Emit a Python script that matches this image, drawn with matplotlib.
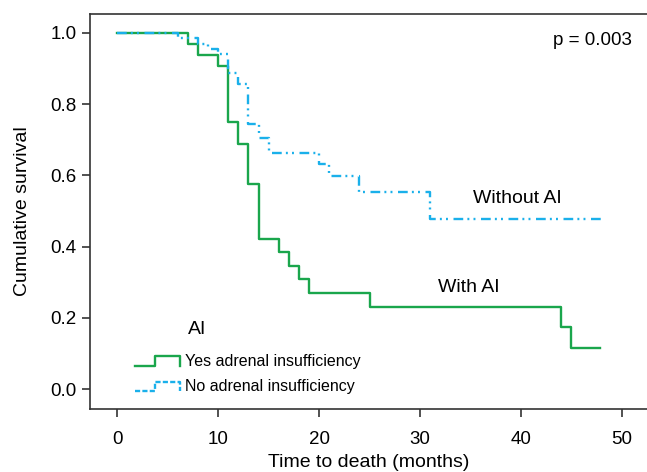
import matplotlib
matplotlib.use("Agg")
import matplotlib.pyplot as plt
from matplotlib.legend_handler import HandlerBase
from matplotlib.lines import Line2D

plt.rcParams['font.family'] = ['Liberation Sans', 'DejaVu Sans']
plt.rcParams['lines.scale_dashes'] = False

# Kaplan-Meier steps
yes_t = [0, 7, 8, 10, 11, 12, 13, 14, 16, 17, 18, 19, 25, 44, 45, 47.8]
yes_s = [1.0, 0.969, 0.939, 0.908, 0.75, 0.688, 0.575, 0.42, 0.385, 0.345,
         0.308, 0.269, 0.231, 0.174, 0.116, 0.116]

no_t = [0, 6, 8, 9, 10, 11, 12, 13, 14, 15, 20, 21, 24, 31, 48]
no_s = [1.0, 0.985, 0.97, 0.955, 0.94, 0.887, 0.857, 0.744, 0.706, 0.662,
        0.632, 0.597, 0.552, 0.477, 0.477]

green = '#1aa64c'
blue = '#1ab0ea'
dash = (0, (7, 3, 1.4, 3, 1.4, 4))


class StepHandler(HandlerBase):
    # legend glyph drawn as a little step, like the original
    def create_artists(self, legend, orig, xd, yd, w, h, fontsize, trans):
        xs = [xd, xd + 0.45 * w, xd + 0.45 * w, xd + w, xd + w]
        ys = [yd, yd, yd + h * 0.85, yd + h * 0.85, yd]
        ln = Line2D(xs, ys, color=orig.get_color(), lw=orig.get_linewidth(),
                    linestyle=orig.get_linestyle(), transform=trans)
        return [ln]


fig = plt.figure(figsize=(6.47, 4.72), dpi=100)
ax = fig.add_axes([90 / 647, 1 - 409 / 472, 1 - 90 / 647, (409 - 14) / 472])

l1, = ax.step(yes_t, yes_s, where='post', color=green, lw=1.7)
l2, = ax.step(no_t, no_s, where='post', color=blue, lw=1.7, linestyle=dash)

ax.set_xlim(-2.7, 52.5)
ax.set_ylim(-0.056, 1.053)
ax.set_xticks([0, 10, 20, 30, 40, 50])
ax.set_yticks([0.0, 0.2, 0.4, 0.6, 0.8, 1.0])
ax.set_yticklabels(['0.0', '0.2', '0.4', '0.6', '0.8', '1.0'])
ax.tick_params(direction='out', length=6, width=1.2, labelsize=13.5,
               colors='#333333', labelcolor='black')
ax.tick_params(axis='x', pad=10)
ax.spines['right'].set_visible(False)
for s in ['left', 'top', 'bottom']:
    ax.spines[s].set_linewidth(1.2)
    ax.spines[s].set_color('#333333')

ax.set_xlabel('Time to death (months)', fontsize=14, labelpad=4)
ax.set_ylabel('Cumulative survival', fontsize=14, labelpad=14)

ax.text(0.973, 0.932, 'p = 0.003', transform=ax.transAxes, ha='right', va='center', fontsize=13.5)
ax.text(39.7, 0.534, 'Without AI', ha='center', va='center', fontsize=14)
ax.text(34.85, 0.284, 'With AI', ha='center', va='center', fontsize=14)
ax.text(7.0, 0.166, 'AI', ha='left', va='center', fontsize=14)

leg = ax.legend([l1, l2], ['Yes adrenal insufficiency', 'No adrenal insufficiency'],
                loc='lower left', bbox_to_anchor=(0.058, 0.005),
                frameon=False, fontsize=11.5,
                handler_map={Line2D: StepHandler()}, handlelength=2.8,
                handletextpad=0.35, labelspacing=0.65, borderpad=0.3)

fig.savefig('out.png', dpi=100)
